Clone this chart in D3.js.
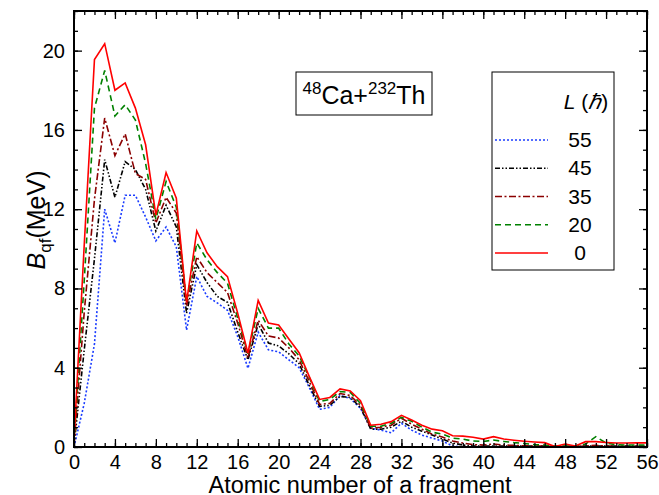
<!DOCTYPE html>
<html>
<head>
<meta charset="utf-8">
<script src="https://cdn.jsdelivr.net/npm/d3@7"></script>
<style>
  body { margin: 0; background: #fff; }
  svg { font-family: "Liberation Sans", Arial, sans-serif; }
</style>
</head>
<body>
<div id="chart"></div>
<script>
// fragment charge numbers (x categories)
const zValues = d3.range(0, 57);

// B_qf (MeV) for each angular momentum L
const bL0 = [0.3, 10.2, 19.55, 20.35, 18.0, 18.37, 17.1, 15.25, 11.7, 13.85, 12.56, 7.3, 10.9, 9.8, 9.1, 8.6, 6.75, 4.73, 7.4, 6.25,
  6.16, 5.45, 4.76, 3.55, 2.4, 2.5, 2.93, 2.83, 2.34, 1.1, 1.15, 1.28, 1.6, 1.36, 1.1, 0.9, 0.82, 0.57, 0.55, 0.49,
  0.4, 0.52, 0.4, 0.34, 0.29, 0.25, 0.22, 0.02, 0.15, 0.05, 0.27, 0.27, 0.23, 0.2, 0.2, 0.21, 0.21];
const bL20 = [0.2, 8.4, 17.1, 19.0, 16.7, 17.27, 16.5, 14.3, 11.5, 13.4, 12.1, 7.3, 10.3, 9.45, 8.8, 8.27, 6.5, 4.7, 7.0, 6.0,
  6.0, 5.2, 4.6, 3.5, 2.3, 2.4, 2.8, 2.75, 2.2, 1.05, 1.05, 1.2, 1.5, 1.3, 1.0, 0.75, 0.65, 0.45, 0.4, 0.3,
  0.28, 0.35, 0.28, 0.22, 0.18, 0.12, 0.1, 0.04, 0.05, 0.05, 0.15, 0.52, 0.2, 0.12, 0.1, 0.1, 0.1];
const bL35 = [0.1, 6.8, 12.5, 16.6, 14.7, 15.8, 13.8, 13.5, 11.3, 12.6, 11.8, 7.1, 9.6, 8.8, 8.3, 7.8, 6.25, 4.5, 6.4, 5.6,
  5.5, 5.0, 4.4, 3.3, 2.15, 2.2, 2.7, 2.6, 2.1, 0.95, 1.0, 1.1, 1.45, 1.15, 0.9, 0.65, 0.5, 0.3, 0.2, 0.12,
  0.1, 0.15, 0.1, 0.08, 0.06, 0.05, 0.04, 0.02, 0.03, 0.02, 0.05, 0.08, 0.05, 0.04, 0.04, 0.04, 0.04];
const bL45 = [0.05, 4.9, 9.5, 14.5, 12.6, 14.4, 14.0, 13.0, 10.9, 12.2, 11.1, 6.75, 9.2, 8.3, 7.6, 7.3, 5.8, 4.4, 6.2, 5.25,
  5.1, 4.7, 4.2, 3.1, 2.05, 2.1, 2.55, 2.5, 2.0, 0.9, 0.9, 1.0, 1.3, 1.0, 0.8, 0.6, 0.4, 0.2, 0.1, 0.05,
  0.05, 0.05, 0.05, 0.05, 0.05, 0.05, 0.05, 0.03, 0.03, 0.03, 0.05, 0.05, 0.05, 0.05, 0.05, 0.05, 0.05];
const bL55 = [0.0, 2.2, 5.2, 12.0, 10.3, 12.7, 12.7, 11.6, 10.4, 11.1, 10.1, 5.9, 8.6, 7.6, 7.27, 6.9, 5.57, 3.97, 5.8, 4.9,
  4.8, 4.4, 4.0, 3.0, 1.9, 2.0, 2.6, 2.45, 1.95, 0.95, 0.85, 0.72, 1.2, 0.85, 0.6, 0.45, 0.3, 0.05, 0.0, 0.0,
  0.0, 0.0, 0.0, 0.0, 0.0, 0.0, 0.0, 0.0, 0.0, 0.0, 0.0, 0.0, 0.0, 0.0, 0.0, 0.0, 0.0];

const legendLabels = ["55", "45", "35", "20", "0"];
const xTicks = d3.range(0, 57, 4);
const yTicks = d3.range(0, 21, 4);

const series = [
  { name: "55", values: bL55, color: "#1a3cff", dash: "2,2" },
  { name: "45", values: bL45, color: "#000000", dash: "5,2,1.5,2,1.5,2" },
  { name: "35", values: bL35, color: "#8b0000", dash: "7,2.5,2,2.5" },
  { name: "20", values: bL20, color: "#008000", dash: "6,4" },
  { name: "0", values: bL0, color: "#ff0000", dash: null }
];

const width = 659, height = 495;
const margin = { top: 11, right: 12, bottom: 48, left: 74 };

const svg = d3.select("#chart").append("svg")
  .attr("width", width)
  .attr("height", height);

const x = d3.scaleLinear().domain([0, 56]).range([margin.left, width - margin.right]);
const y = d3.scaleLinear().domain([0, 22]).range([height - margin.bottom, margin.top]);

// lines
const line = d3.line()
  .x((d, i) => x(zValues[i]))
  .y(d => y(d));

const plot = svg.append("g");
// draw order: bottom curves first, red last
series.forEach(s => {
  plot.append("path")
    .datum(s.values)
    .attr("d", line)
    .attr("fill", "none")
    .attr("stroke", s.color)
    .attr("stroke-width", 1.6)
    .attr("stroke-dasharray", s.dash);
});

// axes with inward ticks on all four sides
function styleAxis(g) {
  g.select(".domain").remove();
  g.selectAll("line").attr("stroke", "#000").attr("stroke-width", 1.3);
  g.selectAll("text").attr("font-size", 20).attr("fill", "#000");
}

const xMinor = d3.range(0, 57);
const yMinor = d3.range(0, 23);

svg.append("g")
  .attr("transform", `translate(0,${height - margin.bottom})`)
  .call(d3.axisBottom(x).tickValues(xMinor).tickSize(-4).tickFormat(""))
  .call(styleAxis);
svg.append("g")
  .attr("transform", `translate(0,${height - margin.bottom})`)
  .call(d3.axisBottom(x).tickValues(xTicks).tickSize(-8).tickPadding(8).tickFormat(d3.format("d")))
  .call(styleAxis);
svg.append("g")
  .attr("transform", `translate(0,${margin.top})`)
  .call(d3.axisTop(x).tickValues(xMinor).tickSize(-4).tickFormat(""))
  .call(styleAxis);
svg.append("g")
  .attr("transform", `translate(0,${margin.top})`)
  .call(d3.axisTop(x).tickValues(xTicks).tickSize(-8).tickFormat(""))
  .call(styleAxis);

svg.append("g")
  .attr("transform", `translate(${margin.left},0)`)
  .call(d3.axisLeft(y).tickValues(yMinor).tickSize(-4).tickFormat(""))
  .call(styleAxis);
svg.append("g")
  .attr("transform", `translate(${margin.left},0)`)
  .call(d3.axisLeft(y).tickValues(yTicks).tickSize(-8).tickPadding(9).tickFormat(d3.format("d")))
  .call(styleAxis);
svg.append("g")
  .attr("transform", `translate(${width - margin.right},0)`)
  .call(d3.axisRight(y).tickValues(yMinor).tickSize(-4).tickFormat(""))
  .call(styleAxis);
svg.append("g")
  .attr("transform", `translate(${width - margin.right},0)`)
  .call(d3.axisRight(y).tickValues(yTicks).tickSize(-8).tickFormat(""))
  .call(styleAxis);

// frame
svg.append("rect")
  .attr("x", margin.left)
  .attr("y", margin.top)
  .attr("width", width - margin.left - margin.right)
  .attr("height", height - margin.top - margin.bottom)
  .attr("fill", "none")
  .attr("stroke", "#000")
  .attr("stroke-width", 2);

// axis titles
svg.append("text")
  .attr("x", 360)
  .attr("y", 493)
  .attr("text-anchor", "middle")
  .attr("font-size", 23.5)
  .text("Atomic number of a fragment");

const yTitle = svg.append("text")
  .attr("transform", "translate(45,220) rotate(-90)")
  .attr("text-anchor", "middle")
  .attr("font-size", 25);
yTitle.append("tspan").attr("font-style", "italic").text("B");
yTitle.append("tspan").attr("font-size", 17).attr("dy", 6).text("qf");
yTitle.append("tspan").attr("dy", -6).text("(MeV)");

// reaction label
svg.append("rect")
  .attr("x", 296).attr("y", 72).attr("width", 136).attr("height", 43)
  .attr("fill", "#fff").attr("stroke", "#000").attr("stroke-width", 1);
const react = svg.append("text")
  .attr("x", 364).attr("y", 104)
  .attr("text-anchor", "middle")
  .attr("font-size", 25);
react.append("tspan").attr("font-size", 17).attr("dy", -10).text("48");
react.append("tspan").attr("dy", 10).text("Ca+");
react.append("tspan").attr("font-size", 17).attr("dy", -10).text("232");
react.append("tspan").attr("dy", 10).text("Th");

// legend
const lg = svg.append("g");
lg.append("rect")
  .attr("x", 492).attr("y", 72).attr("width", 122).attr("height", 198)
  .attr("fill", "#fff").attr("stroke", "#000").attr("stroke-width", 1);
const lt = lg.append("text")
  .attr("x", 586).attr("y", 109)
  .attr("text-anchor", "middle")
  .attr("font-size", 21);
lt.append("tspan").attr("font-style", "italic").text("L");
lt.append("tspan").text(" (");
lt.append("tspan").attr("font-style", "italic").text("\u210F");
lt.append("tspan").text(")");

const ly = d3.scalePoint().domain(legendLabels).range([140, 253]);
series.forEach(s => {
  lg.append("line")
    .attr("x1", 495).attr("x2", 548)
    .attr("y1", ly(s.name)).attr("y2", ly(s.name))
    .attr("stroke", s.color)
    .attr("stroke-width", 1.6)
    .attr("stroke-dasharray", s.dash);
  lg.append("text")
    .attr("x", 580).attr("y", ly(s.name) + 7)
    .attr("text-anchor", "middle")
    .attr("font-size", 21)
    .text(s.name);
});
</script>
</body>
</html>
